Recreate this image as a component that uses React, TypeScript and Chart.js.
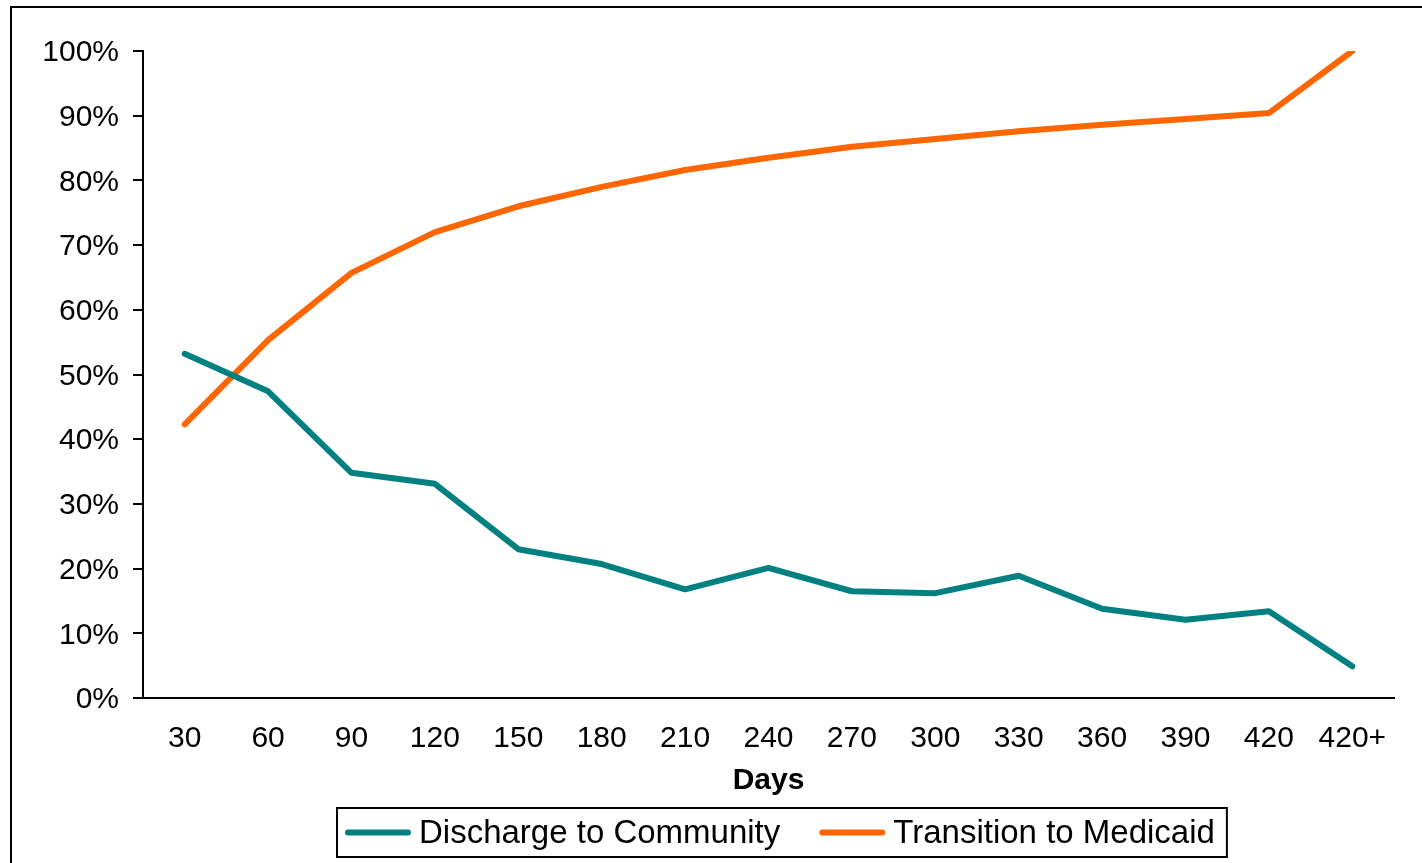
import React, { useEffect, useRef } from "react";
import { Chart, registerables } from "chart.js";

Chart.register(...registerables);

const categories = ["30", "60", "90", "120", "150", "180", "210", "240", "270", "300", "330", "360", "390", "420", "420+"];
const dischargeToCommunity = [53.2, 47.4, 34.8, 33.1, 23.0, 20.7, 16.8, 20.1, 16.5, 16.2, 18.9, 13.8, 12.1, 13.4, 4.9];
const transitionToMedicaid = [42.3, 55.3, 65.7, 72.0, 76.0, 79.0, 81.6, 83.5, 85.2, 86.4, 87.6, 88.6, 89.5, 90.4, 100];
const seriesLabels = ["Discharge to Community", "Transition to Medicaid"];
const seriesColors = ["#008080", "#FF6600"];
const axisTitle = "Days";

const FONT = '"Liberation Sans", Arial, sans-serif';

const framePlugin = {
  id: "outerFrame",
  beforeDraw(chart: any) {
    const ctx = chart.ctx;
    ctx.save();
    ctx.fillStyle = "#ffffff";
    ctx.fillRect(0, 0, chart.width, chart.height);
    ctx.strokeStyle = "#000";
    ctx.lineWidth = 2;
    ctx.beginPath();
    ctx.moveTo(11, chart.height + 5);
    ctx.lineTo(11, 7);
    ctx.lineTo(chart.width + 5, 7);
    ctx.stroke();
    ctx.restore();
  },
};

const legendPlugin = {
  id: "boxedLegend",
  afterDraw(chart: any) {
    const ctx = chart.ctx;
    const area = chart.chartArea;
    ctx.save();
    ctx.font = `33px ${FONT}`;
    const lineLen = 66;
    const gapLT = 8;
    const gapItems = 39;
    const padL = 8;
    const padR = 12;
    const items = chart.data.datasets.map((ds: any) => ({
      label: ds.label,
      color: ds.borderColor,
      w: ctx.measureText(ds.label).width,
    }));
    let total = padL + padR + gapItems * (items.length - 1);
    items.forEach((it: any) => (total += lineLen + gapLT + it.w));
    const cx = (area.left + area.right) / 2 + 13;
    const boxLeft = Math.round(cx - total / 2);
    const boxTop = area.bottom + 110;
    const boxH = 49;
    ctx.strokeStyle = "#000";
    ctx.lineWidth = 2;
    ctx.strokeRect(boxLeft, boxTop, total, boxH);
    const cy = boxTop + boxH / 2;
    let x = boxLeft + padL;
    items.forEach((it: any) => {
      ctx.strokeStyle = it.color;
      ctx.lineWidth = 6;
      ctx.lineCap = "round";
      ctx.beginPath();
      ctx.moveTo(x + 3, cy);
      ctx.lineTo(x + lineLen - 3, cy);
      ctx.stroke();
      x += lineLen + gapLT;
      ctx.fillStyle = "#000";
      ctx.textBaseline = "middle";
      ctx.textAlign = "left";
      ctx.fillText(it.label, x, cy + 1);
      x += it.w + gapItems;
    });
    ctx.restore();
  },
};

export default function App() {
  const canvasRef = useRef<HTMLCanvasElement | null>(null);

  useEffect(() => {
    const canvas = canvasRef.current;
    if (!canvas) return;
    const chart = new Chart(canvas, {
      type: "line",
      data: {
        labels: categories,
        datasets: [
          {
            label: seriesLabels[0],
            data: dischargeToCommunity,
            borderColor: seriesColors[0],
            backgroundColor: seriesColors[0],
            borderWidth: 6,
            pointRadius: 0,
            tension: 0,
            borderCapStyle: "round",
            borderJoinStyle: "round",
          },
          {
            label: seriesLabels[1],
            data: transitionToMedicaid,
            borderColor: seriesColors[1],
            backgroundColor: seriesColors[1],
            borderWidth: 6,
            pointRadius: 0,
            tension: 0,
            borderCapStyle: "round",
            borderJoinStyle: "round",
          },
        ],
      },
      options: {
        animation: false,
        responsive: true,
        maintainAspectRatio: false,
        layout: { padding: { left: 0, top: 51, right: 28, bottom: 0 } },
        plugins: {
          legend: { display: false },
          tooltip: { enabled: false },
        },
        scales: {
          x: {
            type: "category",
            offset: true,
            grid: { display: false, drawTicks: false },
            border: { display: true, color: "#000", width: 2 },
            ticks: {
              color: "#000",
              font: { family: FONT, size: 30 },
              padding: 23,
              maxRotation: 0,
              autoSkip: false,
            },
            title: {
              display: true,
              text: axisTitle,
              color: "#000",
              font: { family: FONT, size: 30, weight: "bold" },
              padding: { top: 0, bottom: 64 },
            },
            afterFit(scale: any) {
              scale.height = 165;
              scale.paddingLeft = 0;
              scale.paddingRight = 0;
            },
          },
          y: {
            min: 0,
            max: 100,
            grid: {
              drawOnChartArea: false,
              drawTicks: true,
              tickLength: 10,
              color: "#000",
              lineWidth: 2,
            },
            border: { display: true, color: "#000", width: 2 },
            ticks: {
              stepSize: 10,
              color: "#000",
              font: { family: FONT, size: 30 },
              padding: 14,
              labelOffset: 2,
              callback: (v: any) => `${v}%`,
            },
            afterFit(scale: any) {
              scale.width = 143;
              scale.paddingTop = 0;
              scale.paddingBottom = 0;
            },
          },
        },
      },
      plugins: [framePlugin, legendPlugin],
    });
    return () => chart.destroy();
  }, []);

  return (
    <div style={{ position: "fixed", left: 0, top: 0, width: 1422, height: 863, background: "#fff" }}>
      <canvas ref={canvasRef} />
    </div>
  );
}
